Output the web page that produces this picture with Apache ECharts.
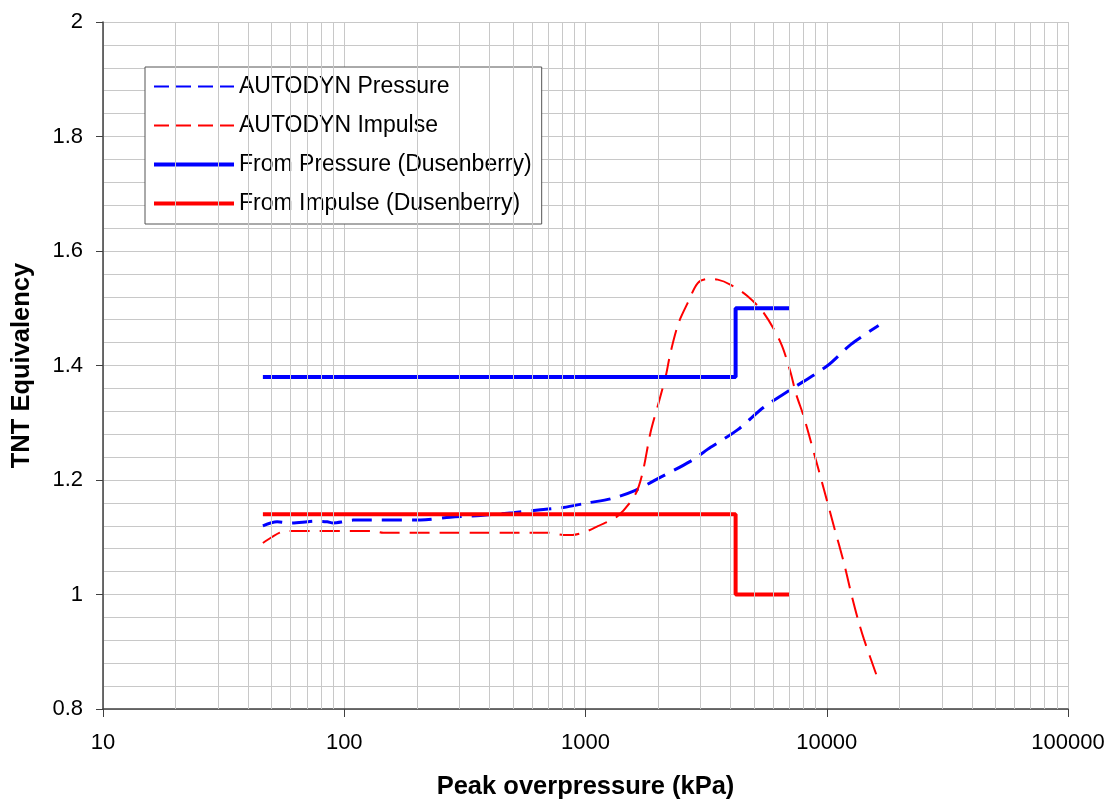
<!DOCTYPE html>
<html>
<head>
<meta charset="utf-8">
<script src="https://cdn.jsdelivr.net/npm/echarts@6/dist/echarts.min.js"></script>
<style>
html, body { margin: 0; padding: 0; background: #fff; }
#main { width: 1116px; height: 805px; }
</style>
</head>
<body>
<div id="main"></div>
<script>
// AUTODYN Pressure  [kPa, TNT eq]
var autodynPressure = [
    [46, 1.12], [52.7, 1.127], [59.7, 1.125], [70.3, 1.127], [75, 1.128], [85, 1.127],
    [90, 1.125], [99, 1.127], [109, 1.13], [207, 1.13], [275, 1.135], [367, 1.138],
    [500, 1.143], [650, 1.148], [810, 1.152], [1020, 1.16], [1270, 1.167], [1610, 1.182],
    [2050, 1.205], [2730, 1.233], [3300, 1.257], [4280, 1.288], [5480, 1.327],
    [7090, 1.358], [10090, 1.4], [12600, 1.437], [16400, 1.47]
];
// AUTODYN Impulse
var autodynImpulse = [
    [46, 1.09], [50, 1.1], [54, 1.108], [58, 1.111], [132, 1.111], [145, 1.108],
    [200, 1.108], [500, 1.108], [700, 1.108], [810, 1.104], [883, 1.104], [1020, 1.111],
    [1120, 1.119], [1360, 1.137], [1610, 1.175], [1725, 1.213], [1860, 1.283],
    [2010, 1.335], [2150, 1.381], [2250, 1.422], [2430, 1.474], [2650, 1.509],
    [2920, 1.544], [3210, 1.551], [3530, 1.55], [4000, 1.541], [4700, 1.521],
    [5480, 1.492], [6440, 1.44], [7090, 1.387], [7440, 1.352], [8040, 1.31],
    [8840, 1.248], [9730, 1.184], [10690, 1.12], [11770, 1.056], [12590, 1.004],
    [13460, 0.957], [14260, 0.922], [16300, 0.852]
];
// Dusenberry
var fromPressure = [[46, 1.38], [4190, 1.38], [4190, 1.5], [7000, 1.5]];
var fromImpulse = [[46, 1.14], [4190, 1.14], [4190, 1.0], [7000, 1.0]];

var seriesNames = ['AUTODYN Pressure', 'AUTODYN Impulse', 'From Pressure (Dusenberry)', 'From Impulse (Dusenberry)'];
var xMin = 10, xMax = 100000;
var yMin = 0.8, yMax = 2, yStep = 0.2;

// minor log grid lines 20..90, 200..900 ...
var minorX = [];
for (var d = xMin; d < xMax; d *= 10) {
    for (var m = 2; m <= 9; m++) {
        minorX.push(d * m);
    }
}

var gridColor = '#c8c8c8';
var axisColor = '#404040';
var font = 'Liberation Sans, Arial, sans-serif';

var chart = echarts.init(document.getElementById('main'));
var option = {
    backgroundColor: '#fff',
    animation: false,
    grid: { left: 103, right: 48, top: 22, bottom: 95, containLabel: false },
    legend: {
        data: [
            { name: seriesNames[0], lineStyle: { color: '#0000ff', width: 2, type: [15, 7] } },
            { name: seriesNames[1], lineStyle: { color: '#ff0000', width: 2, type: [15, 7] } },
            { name: seriesNames[2], lineStyle: { color: '#0000ff', width: 4, type: 'solid' } },
            { name: seriesNames[3], lineStyle: { color: '#ff0000', width: 4, type: 'solid' } }
        ],
        orient: 'vertical',
        left: 145,
        top: 67,
        padding: [8, 10, 9, 7],
        itemWidth: 80,
        itemHeight: 14,
        itemGap: 16,
        backgroundColor: '#fff',
        borderColor: '#555',
        borderWidth: 1,
        itemStyle: { opacity: 0, borderWidth: 0 },
        textStyle: { fontFamily: font, fontSize: 23, color: '#000' }
    },
    xAxis: {
        type: 'log',
        logBase: 10,
        min: xMin,
        max: xMax,
        name: 'Peak overpressure (kPa)',
        nameLocation: 'middle',
        nameGap: 65,
        nameTextStyle: { fontFamily: font, fontSize: 25.5, fontWeight: 'bold', color: '#000' },
        axisLine: { onZero: false, lineStyle: { color: axisColor, width: 1.5 } },
        axisTick: { show: true, length: 8, lineStyle: { color: axisColor } },
        axisLabel: {
            margin: 23,
            fontFamily: font, fontSize: 22, color: '#000',
            formatter: function (v) { return String(Math.round(v)); }
        },
        splitLine: { show: true, lineStyle: { color: gridColor, width: 1 } }
    },
    yAxis: {
        type: 'value',
        min: yMin,
        max: yMax,
        interval: yStep,
        name: 'TNT Equivalency',
        nameLocation: 'middle',
        nameGap: 68,
        nameTextStyle: { fontFamily: font, fontSize: 25.5, fontWeight: 'bold', color: '#000' },
        axisLine: { show: true, lineStyle: { color: axisColor, width: 1.5 } },
        axisTick: { show: true, length: 7, lineStyle: { color: axisColor } },
        axisLabel: { margin: 20, fontFamily: font, fontSize: 22, color: '#000' },
        splitLine: { show: true, lineStyle: { color: gridColor, width: 1 } },
        minorTick: { show: false, splitNumber: 5 },
        minorSplitLine: { show: true, lineStyle: { color: gridColor, width: 1 } }
    },
    series: [
        {
            name: 'minor-grid',
            type: 'line',
            data: [],
            z: 1,
            silent: true,
            markLine: {
                silent: true,
                symbol: ['none', 'none'],
                label: { show: false },
                lineStyle: { color: gridColor, width: 1, type: 'solid' },
                emphasis: { disabled: true },
                data: minorX.map(function (v) { return { xAxis: v }; })
            }
        },
        {
            name: seriesNames[0],
            type: 'line',
            data: autodynPressure,
            symbol: 'none',
            smooth: 0.3,
            color: '#0000ff',
            lineStyle: { color: '#0000ff', width: 3, type: [20, 10] },
            z: 3
        },
        {
            name: seriesNames[1],
            type: 'line',
            data: autodynImpulse,
            symbol: 'none',
            smooth: 0.3,
            color: '#ff0000',
            lineStyle: { color: '#ff0000', width: 2, type: [20, 10] },
            z: 3
        },
        {
            name: seriesNames[2],
            type: 'line',
            data: fromPressure,
            symbol: 'none',
            color: '#0000ff',
            lineStyle: { color: '#0000ff', width: 4 },
            z: 4
        },
        {
            name: seriesNames[3],
            type: 'line',
            data: fromImpulse,
            symbol: 'none',
            color: '#ff0000',
            lineStyle: { color: '#ff0000', width: 4 },
            z: 4
        }
    ]
};
chart.setOption(option);
</script>
</body>
</html>
